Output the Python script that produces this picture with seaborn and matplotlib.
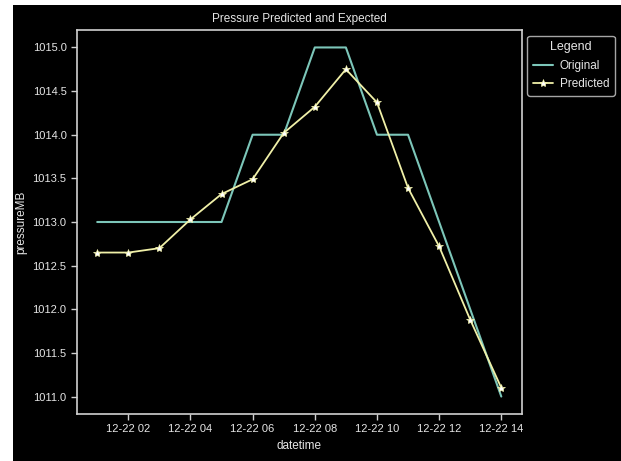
import numpy as np
import pandas as pd
import matplotlib
matplotlib.use("Agg")
import matplotlib.pyplot as plt
import matplotlib.dates as mdates
from matplotlib.patches import Rectangle
import seaborn as sns

# Hourly pressure readings on 22 December
hours = ["2023-12-22 01:00", "2023-12-22 02:00", "2023-12-22 03:00", "2023-12-22 04:00",
         "2023-12-22 05:00", "2023-12-22 06:00", "2023-12-22 07:00", "2023-12-22 08:00",
         "2023-12-22 09:00", "2023-12-22 10:00", "2023-12-22 11:00", "2023-12-22 12:00",
         "2023-12-22 13:00", "2023-12-22 14:00"]
original = [1013.0, 1013.0, 1013.0, 1013.0, 1013.0, 1014.0, 1014.0,
            1015.0, 1015.0, 1014.0, 1014.0, 1013.0, 1012.0, 1011.0]
predicted = [1012.65, 1012.65, 1012.70, 1013.03, 1013.32, 1013.49, 1014.02,
             1014.32, 1014.75, 1014.37, 1013.39, 1012.72, 1011.88, 1011.10]

df = pd.DataFrame({
    "datetime": pd.to_datetime(hours),
    "Original": original,
    "Predicted": predicted,
})

sns.set_theme(style="ticks")
plt.style.use("dark_background")
plt.rcParams["font.family"] = ["Liberation Sans", "DejaVu Sans"]
plt.rcParams["font.size"] = 8

fig = plt.figure(figsize=(6.21, 4.61), dpi=100, facecolor="white")
fig.patches.append(Rectangle((13 / 621, 0), 1 - 13 / 621, 1 - 5 / 461,
                             transform=fig.transFigure, facecolor="black",
                             edgecolor="none", zorder=-10))
ax = fig.add_axes([77 / 621, 1 - 414 / 461, (521.5 - 77) / 621, (414 - 30) / 461])
ax.set_facecolor("black")

sns.lineplot(data=df, x="datetime", y="Original", ax=ax, color="#7cc6b9",
             linewidth=1.5, label="Original")
sns.lineplot(data=df, x="datetime", y="Predicted", ax=ax, color="#f0f0a8",
             linewidth=1.3, marker="*", markersize=6, markerfacecolor="white",
             markeredgecolor="#f0f0a8", markeredgewidth=0.5, label="Predicted")

ax.xaxis.set_major_locator(mdates.HourLocator(byhour=range(2, 24, 2)))
ax.xaxis.set_major_formatter(mdates.DateFormatter("%m-%d %H"))
ax.set_yticks(np.arange(1011.0, 1015.01, 0.5))
ax.yaxis.set_major_formatter(matplotlib.ticker.FormatStrFormatter("%.1f"))

for s in ax.spines.values():
    s.set_color("#d0d0d0")
    s.set_linewidth(1.2)
ax.tick_params(colors="#d0d0d0", labelcolor="#e6e6e6", labelsize=8, length=4, width=1)

ax.set_title("Pressure Predicted and Expected", fontsize=8.5, color="#e6e6e6", pad=6)
ax.set_xlabel("datetime", fontsize=8.5, color="#e6e6e6")
ax.set_ylabel("pressureMB", fontsize=8.5, color="#e6e6e6")

leg = ax.legend(title="Legend", loc="upper left", bbox_to_anchor=(1.0, 1.0),
                fontsize=8.5, title_fontsize=9, frameon=True, labelspacing=0.55,
                handlelength=1.7, handletextpad=0.6, borderpad=0.45,
                facecolor="black", edgecolor="#d0d0d0", fancybox=True)
for t in leg.get_texts():
    t.set_color("#e6e6e6")
leg.get_title().set_color("#e6e6e6")

fig.savefig("out.png", dpi=100, facecolor=fig.get_facecolor())
